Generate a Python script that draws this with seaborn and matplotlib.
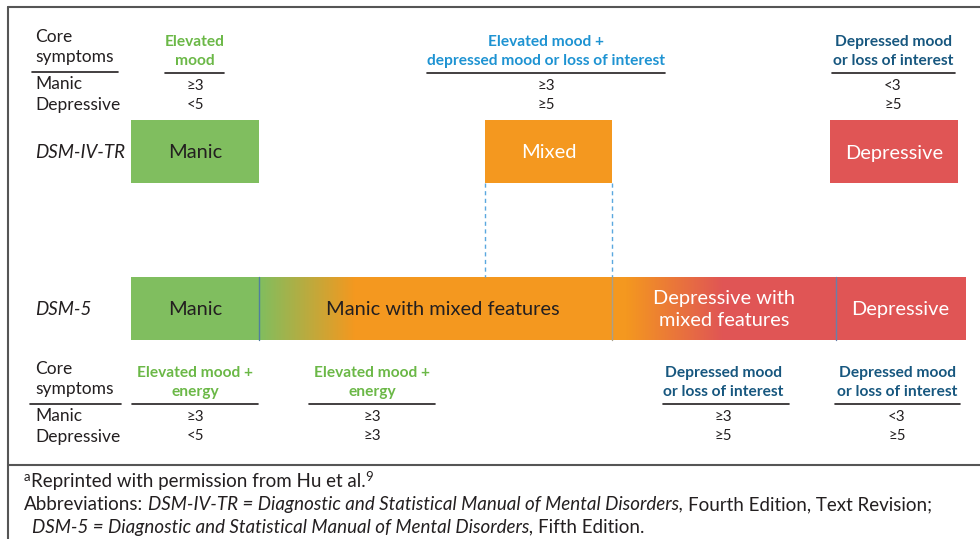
import numpy as np
import seaborn as sns
import matplotlib.pyplot as plt
from matplotlib.colors import to_rgb

# ---------------------------------------------------------------
# Data
# ---------------------------------------------------------------
dsm4_labels = ["Manic", "Mixed", "Depressive"]
dsm4_core = ["Elevated\nmood",
             "Elevated mood +\ndepressed mood or loss of interest",
             "Depressed mood\nor loss of interest"]
dsm4_manic = ["≥3", "≥3", "<3"]
dsm4_depr = ["<5", "≥5", "≥5"]

dsm5_labels = ["Manic", "Manic with mixed features",
               "Depressive with\nmixed features", "Depressive"]
dsm5_core = ["Elevated mood +\nenergy", "Elevated mood +\nenergy",
             "Depressed mood\nor loss of interest", "Depressed mood\nor loss of interest"]
dsm5_manic = ["≥3", "≥3", "≥3", "<3"]
dsm5_depr = ["<5", "≥3", "≥5", "≥5"]

row_names = ["DSM-IV-TR", "DSM-5"]

# ---------------------------------------------------------------
# Layout (pixel coords, y downwards)
# ---------------------------------------------------------------
dsm4_left = [131, 485, 830]
dsm4_width = [128, 127, 128]
dsm4_cols = [195, 546, 893]
dsm4_rules = [(165, 224), (427, 665), (832, 955)]

dsm5_edges = [131, 259, 612, 836, 965]
dsm5_text_x = [195, 443, 724, 900]
dsm5_cols = [195, 372, 723, 897]
dsm5_rules = [(132, 258), (309, 435), (663, 789), (835, 960)]

GREEN = "#80be5f"
ORANGE = "#f4981f"
RED = "#e05555"
TXT_GREEN = "#6bb847"
TXT_BLUE = "#1e93d2"
TXT_NAVY = "#17577f"
INK = "#231f20"

dsm4_colors = [GREEN, ORANGE, RED]
dsm4_txt = [INK, "white", "white"]
dsm4_core_col = [TXT_GREEN, TXT_BLUE, TXT_NAVY]
dsm5_txt = [INK, INK, "white", "white"]
dsm5_core_col = [TXT_GREEN, TXT_GREEN, TXT_NAVY, TXT_NAVY]

sns.set_style("white")
plt.rcParams['font.family'] = ['Lato', 'DejaVu Sans']

fig = plt.figure(figsize=(9.8, 5.39), dpi=100)
ax = fig.add_axes([0, 0, 1, 1])

FS_HEAD = 12.5
FS_CORE = 11.2
FS_VAL = 10.8
FS_BOX = 14.4


def side_header(y0, rule_x):
    ax.text(35, y0, "Core\nsymptoms", ha='left', va='center', fontsize=FS_HEAD,
            color=INK, linespacing=1.3)
    ax.plot(rule_x, [y0 + 25, y0 + 25], color=INK, lw=1.2)
    ax.text(35, y0 + 37, "Manic", ha='left', va='center', fontsize=FS_HEAD, color=INK)
    ax.text(35, y0 + 58, "Depressive", ha='left', va='center', fontsize=FS_HEAD, color=INK)


def core_columns(y0, cols, rules, core, colors, manic, depr):
    for cx, (r0, r1), c, col, m, d in zip(cols, rules, core, colors, manic, depr):
        ax.text(cx, y0 + 3.5, c, ha='center', va='center', fontsize=FS_CORE,
                color=col, fontweight='bold', linespacing=1.5)
        ax.plot([r0, r1], [y0 + 25, y0 + 25], color=INK, lw=1.2)
        ax.text(cx, y0 + 38, m, ha='center', va='center', fontsize=FS_VAL, color=INK)
        ax.text(cx, y0 + 57, d, ha='center', va='center', fontsize=FS_VAL, color=INK)


# --- top block: DSM-IV-TR ------------------------------------------
side_header(47, [32, 118])
core_columns(48, dsm4_cols, dsm4_rules, dsm4_core, dsm4_core_col, dsm4_manic, dsm4_depr)

ax.barh([151.5] * 3, dsm4_width, left=dsm4_left, height=63, color=dsm4_colors,
        edgecolor='none')
for x0, w, lab, tc in zip(dsm4_left, dsm4_width, dsm4_labels, dsm4_txt):
    ax.text(x0 + w / 2, 153, lab, ha='center', va='center', fontsize=FS_BOX, color=tc)
ax.text(35, 153, row_names[0], ha='left', va='center', fontsize=13.5,
        style='italic', color=INK)

# dashed connectors from Mixed to DSM-5 bar
for x in (485, 612):
    ax.plot([x, x], [183, 277], color="#5aa8df", lw=1, ls=(0, (3, 2.5)))

# --- DSM-5 gradient bar ------------------------------------------
xs = np.arange(dsm5_edges[0], dsm5_edges[-1]) + 0.5
stops_x = [131, 259, 355, 625, 722, 965]
stops_c = [GREEN, GREEN, ORANGE, ORANGE, RED, RED]
rgb = np.array([to_rgb(c) for c in stops_c])
img = np.stack([np.interp(xs, stops_x, rgb[:, k]) for k in range(3)], axis=-1)[None, :, :]
ax.imshow(img, extent=[dsm5_edges[0], dsm5_edges[-1], 340, 277], aspect='auto',
          interpolation='nearest', zorder=1)
for x, c in zip(dsm5_edges[1:-1], ["#4f7fa0", "#a8a08a", "#6a7fa8"]):
    ax.plot([x, x], [277, 340], color=c, lw=1, zorder=2)
for cx, lab, tc in zip(dsm5_text_x, dsm5_labels, dsm5_txt):
    ax.text(cx, 309.5, lab, ha='center', va='center', fontsize=FS_BOX, color=tc,
            linespacing=1.3, zorder=3)
ax.text(35, 309.5, row_names[1], ha='left', va='center', fontsize=13.5,
        style='italic', color=INK)

# --- bottom block: DSM-5 core symptoms ---------------------------
side_header(379, [30, 121])
core_columns(379, dsm5_cols, dsm5_rules, dsm5_core, dsm5_core_col, dsm5_manic, dsm5_depr)

# --- frame --------------------------------------------------------
ax.plot([8, 8], [7, 539], color="#555555", lw=1.5)
ax.plot([8, 980], [7, 7], color="#555555", lw=1.5)
ax.plot([8, 980], [465, 465], color="#555555", lw=1.5)

# --- footnotes (mixed styles) ------------------------------------
FS_FOOT = 13.5
renderer = fig.canvas.get_renderer()


def width_of(s, **kw):
    t = ax.text(0, 0, s, fontsize=kw.get('fontsize', FS_FOOT), style=kw.get('style', 'normal'))
    w = t.get_window_extent(renderer=renderer).width
    t.remove()
    return w


SPACE = width_of("a a") - width_of("aa")


def put_runs(x, y, runs):
    for txt, sty, size, dy, gap in runs:
        t = ax.text(x, y + dy, txt, ha='left', va='baseline', fontsize=size,
                    style=sty, color=INK)
        x += t.get_window_extent(renderer=renderer).width + gap * SPACE


put_runs(24, 487, [("a", 'normal', 9.5, -6, 0),
                   ("Reprinted with permission from Hu et al.", 'normal', FS_FOOT, 0, 0),
                   ("9", 'normal', 9.5, -6, 0)])
put_runs(24, 510, [("Abbreviations:", 'normal', FS_FOOT, 0, 1),
                   ("DSM-IV-TR = Diagnostic and Statistical Manual of Mental Disorders,",
                    'italic', FS_FOOT, 0, 1),
                   ("Fourth Edition, Text Revision;", 'normal', FS_FOOT, 0, 0)])
put_runs(32, 533, [("DSM-5 = Diagnostic and Statistical Manual of Mental Disorders,",
                    'italic', FS_FOOT, 0, 1),
                   ("Fifth Edition.", 'normal', FS_FOOT, 0, 0)])

ax.set_xlim(0, 980)
ax.set_ylim(539, 0)
ax.axis('off')

fig.savefig("out.png", dpi=100)
plt.close(fig)
